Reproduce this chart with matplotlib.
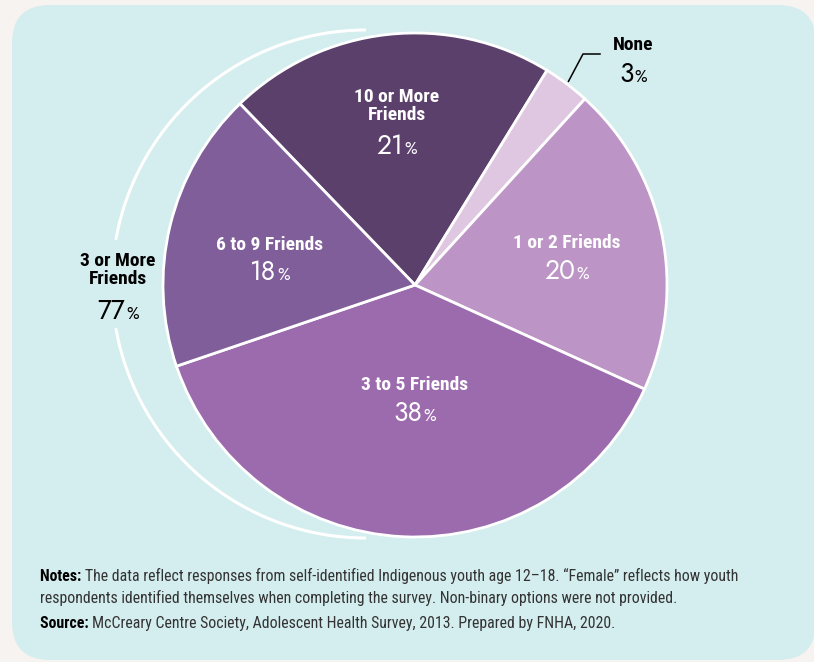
import matplotlib
matplotlib.use("Agg")
from matplotlib import pyplot as plt
from matplotlib.patches import FancyBboxPatch, Arc
import numpy as np

# data, in the order the slices run clockwise from the upper left
categories = ["10 or More\nFriends", "None", "1 or 2 Friends", "3 to 5 Friends", "6 to 9 Friends"]
shares = [21, 3, 20, 38, 18]
slice_colors = ["#5c406c", "#dfc7e1", "#bc94c5", "#9c6bae", "#7f5e99"]
group_label = "3 or More\nFriends"
group_share = 77

notes_lines = ["The data reflect responses from self-identified Indigenous youth age 12\u201318. "
               "\u201cFemale\u201d reflects how youth",
               "respondents identified themselves when completing the survey. "
               "Non-binary options were not provided."]
source_text = "McCreary Centre Society, Adolescent Health Survey, 2013. Prepared by FNHA, 2020."

W, H = 814, 662
LABEL_FONT = ["Roboto Condensed", "Fira Sans Condensed", "DejaVu Sans"]
PCT_FONT = ["Jost", "Lato", "DejaVu Sans"]


def py(y):
    # pixel rows (top down) to data y (bottom up)
    return H - y


fig = plt.figure(figsize=(W / 100, H / 100), dpi=100)
fig.patch.set_facecolor("#f7f3f0")
ax = fig.add_axes([0, 0, 1, 1])
ax.set_xlim(0, W)
ax.set_ylim(0, H)
renderer = fig.canvas.get_renderer()


def width_of(t):
    return t.get_window_extent(renderer=renderer).width


def put_pct(x, y, value, color):
    # big number with a small percent sign, centred on x, digits centred on y
    base = py(y) - 9
    num = ax.text(0, base, f"{value}", ha="left", va="baseline", color=color,
                  fontsize=19, fontweight=500, family=PCT_FONT, zorder=5)
    sign = ax.text(0, base, "%", ha="left", va="baseline", color=color,
                   fontsize=12, fontweight=500, family=PCT_FONT, zorder=5)
    wn, ws = width_of(num), width_of(sign)
    left = x - (wn + ws + 1) / 2
    num.set_x(left)
    sign.set_x(left + wn + 1)


# rounded panel
panel = FancyBboxPatch((12, py(660)), 804, 655, boxstyle="round,pad=0,rounding_size=38",
                       facecolor="#d4edee", edgecolor="none", zorder=0)
ax.add_patch(panel)

pie_center = (415, py(285))
pie_radius = 252
wedges, _ = ax.pie(shares, colors=slice_colors, startangle=134, counterclock=False,
                   center=pie_center, radius=pie_radius,
                   wedgeprops=dict(edgecolor="white", linewidth=2))
ax.set_xlim(0, W)
ax.set_ylim(0, H)
ax.set_aspect("equal")
ax.axis("off")

# bracket arc for the "3 or More" group, with a gap for its label
arc_center = (366, py(284))
for t1, t2 in [(90, 170), (190, 270)]:
    ax.add_patch(Arc(arc_center, 508, 508, theta1=t1, theta2=t2, color="white", lw=2.2))

# slice labels: (x, y of name, y of percent)
label_pos = [(397, 106, 145), (633, 45, 73), (567, 243, 270), (415, 385, 412), (270, 245, 271)]
label_col = ["white", "black", "white", "white", "white"]
for name, val, (x, yn, yp), col in zip(categories, shares, label_pos, label_col):
    ax.text(x, py(yn), name, ha="center", va="center", color=col, fontsize=14,
            fontweight="bold", family=LABEL_FONT, linespacing=1.05)
    put_pct(x, yp, val, col)

# leader for the small "None" slice
w = wedges[1]
mid = np.deg2rad((w.theta1 + w.theta2) / 2)
x0 = pie_center[0] + (pie_radius + 3) * np.cos(mid)
y0 = pie_center[1] + (pie_radius + 3) * np.sin(mid)
ax.plot([x0, 583, 600], [y0, py(54), py(54)], color="black", lw=1.1)

# group label
ax.text(118, py(270), group_label, ha="center", va="center", color="black", fontsize=14,
        fontweight="bold", family=LABEL_FONT, linespacing=1.05)
put_pct(118, 310, group_share, "black")

# notes and source
NOTE_SIZE = 11.4
for head, line, base in [("Notes: ", notes_lines[0], 581), ("Source: ", source_text, 628)]:
    h = ax.text(40, py(base), head, ha="left", va="baseline", fontsize=NOTE_SIZE,
                fontweight="bold", family=LABEL_FONT, color="black")
    ax.text(40 + width_of(h), py(base), line, ha="left", va="baseline", fontsize=NOTE_SIZE,
            family=LABEL_FONT, color="#333333")
ax.text(40, py(603), notes_lines[1], ha="left", va="baseline", fontsize=NOTE_SIZE,
        family=LABEL_FONT, color="#333333")

fig.savefig("out.png", dpi=100, facecolor=fig.get_facecolor())
